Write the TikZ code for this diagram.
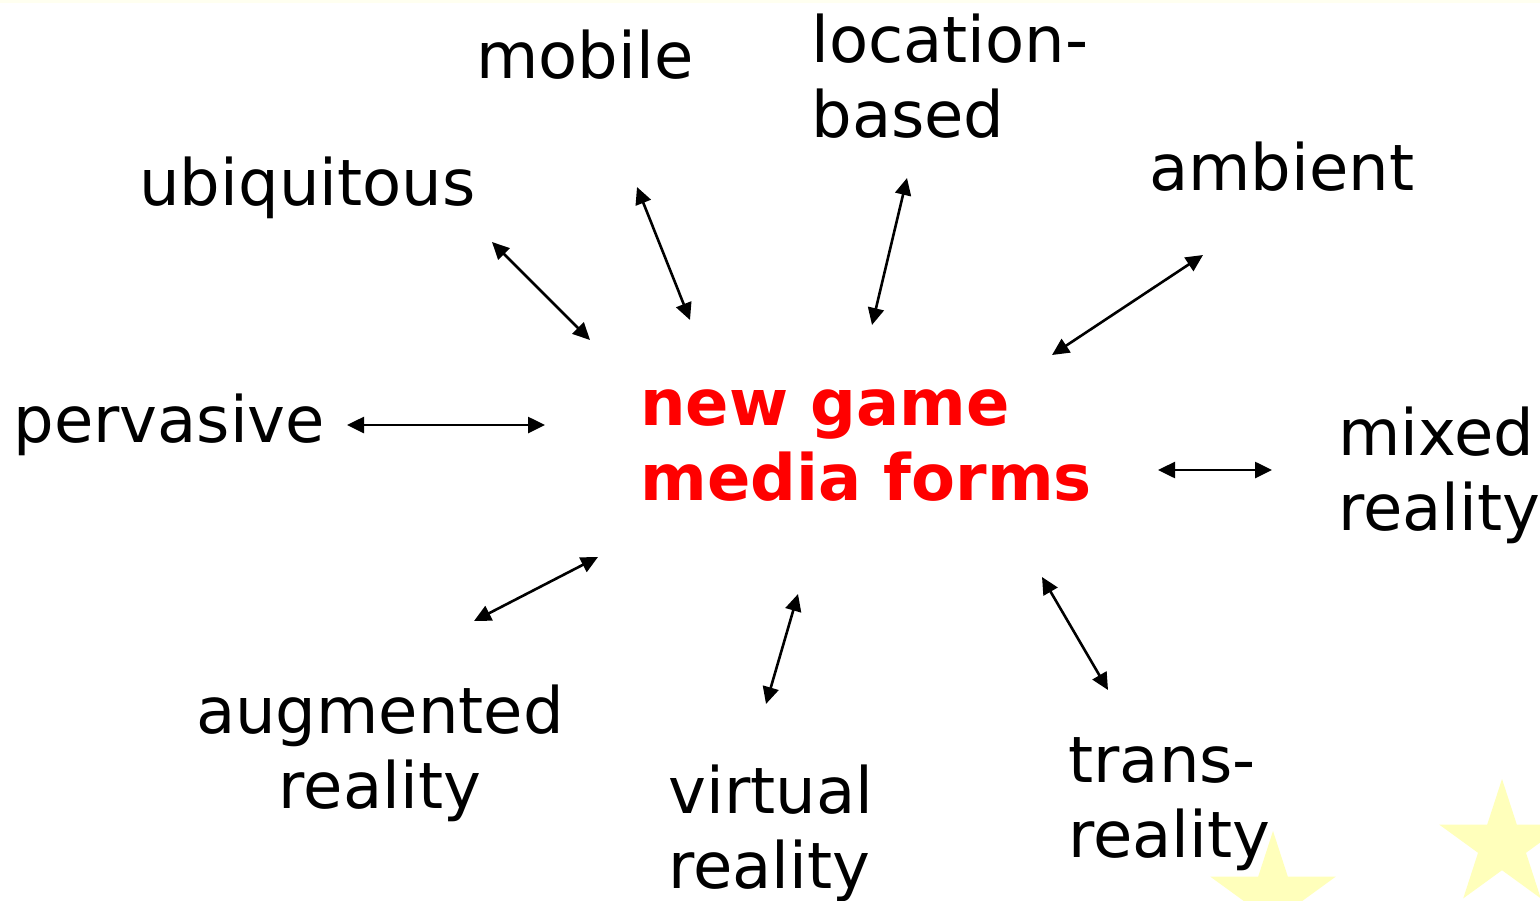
\documentclass[tikz,border=0pt]{standalone}
\usepackage{fontspec}
\setmainfont{DejaVu Sans}
\usetikzlibrary{arrows.meta,shapes.geometric}
\definecolor{starfill}{HTML}{FFFFBB}
\definecolor{topband}{HTML}{FFFFF0}
\definecolor{gamered}{HTML}{FF0000}

\begin{document}
\begin{tikzpicture}[x=.5pt,y=-.5pt,
    lbl/.style={inner sep=0,font=\fontsize{32}{37.5}\selectfont},
    hub/.style={lbl,font=\fontsize{32}{37.5}\selectfont\bfseries,text=gamered,align=left},
    biarrow/.style={line width=1.3pt,{Triangle[length=8.5pt,width=8pt]}-{Triangle[length=8.5pt,width=8pt]}},
    deco/.style={star,star points=5,star point ratio=2.618,fill=starfill,inner sep=0,minimum size=66pt}]
\useasboundingbox[fill=white] (0,0) rectangle (1540,900);
\fill[topband] (0,0) rectangle (1540,3);
\node[deco] (star1) at (1273,897) {};
\node[deco] (star2) at (1502,845) {};

% the forms (base = last line)
\node[hub,anchor=base west] (hub) at (640,500) {new game\\media forms};
\node[lbl,anchor=base west] (mobile) at (476,78) {mobile};
\node[lbl,anchor=base west,align=left] (location) at (811,137) {location-\\based};
\node[lbl,anchor=base west] (ubiq) at (139,205) {ubiquitous};
\node[lbl,anchor=base west] (ambient) at (1149,190) {ambient};
\node[lbl,anchor=base west] (perv) at (13,442) {pervasive};
\node[lbl,anchor=base west,align=left] (mixed) at (1338,530) {mixed\\reality};
\node[lbl,anchor=base,align=center] (augm) at (380,808) {augmented\\reality};
\node[lbl,anchor=base west,align=left] (virtual) at (668,888) {virtual\\reality};
\node[lbl,anchor=base west,align=left] (trans) at (1068,857) {trans-\\reality};

% arrow ends
\coordinate (ubiq-a) at (492,242);   \coordinate (ubiq-b) at (590,340);
\coordinate (mobile-a) at (637,187); \coordinate (mobile-b) at (690,320);
\coordinate (loc-a) at (907,178);    \coordinate (loc-b) at (872,325);
\coordinate (amb-a) at (1203,255);   \coordinate (amb-b) at (1052,355);
\coordinate (perv-a) at (347,425);   \coordinate (perv-b) at (545,425);
\coordinate (mixed-a) at (1272,470); \coordinate (mixed-b) at (1158,470);
\coordinate (augm-a) at (474,621);   \coordinate (augm-b) at (598,557);
\coordinate (virt-a) at (766,704);   \coordinate (virt-b) at (798,594);
\coordinate (trans-a) at (1108,690); \coordinate (trans-b) at (1042,577);

\foreach \s in {ubiq,mobile,loc,amb,perv,mixed,augm,virt,trans}
  \draw[biarrow] (\s-a) -- (\s-b);
\end{tikzpicture}
\end{document}
